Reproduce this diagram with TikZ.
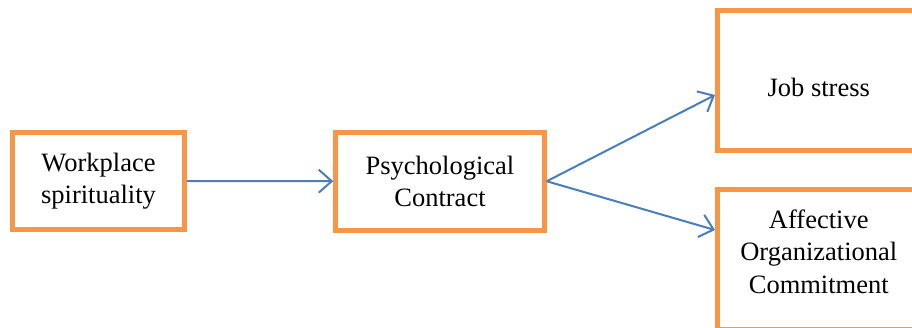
\documentclass[tikz,border=0pt]{standalone}
\usepackage{fontspec}
\setmainfont{Liberation Serif}
\usetikzlibrary{arrows.meta}
\definecolor{boxorange}{HTML}{F79646}
\definecolor{linkblue}{HTML}{4A7EBB}

\begin{document}
\begin{tikzpicture}[x=1pt,y=-1pt,
    factor/.style={draw=boxorange, line width=5pt, fill=white, align=center,
      inner sep=0pt, font=\fontsize{26.5}{32.5}\selectfont},
    inlabel/.style={align=center, inner sep=0pt, font=\fontsize{26.5}{32.5}\selectfont},
    link/.style={draw=linkblue, line width=2pt,
      -{Straight Barb[length=13pt,width=23pt]}}]
  \useasboundingbox (0,0) rectangle (912,327);
  \clip (0,0) rectangle (912,327);

  \node[factor, minimum width=172pt, minimum height=97pt] (ws) at (98.5,181)
    {Workplace\\spirituality};
  \node[factor, minimum width=208.5pt, minimum height=97.5pt] (pc) at (440,181.25)
    {Psychological\\Contract};
  % text of the right boxes sits off centre
  \node[factor, minimum width=202.5pt, minimum height=140pt,
    label={[inlabel, yshift=-7pt]center:Job stress}] (js) at (818.75,80.5) {};
  \node[factor, minimum width=202.5pt, minimum height=140pt,
    label={[inlabel, yshift=8pt]center:Affective\\Organizational\\Commitment}]
    (aoc) at (818.75,259.5) {};

  % links
  \draw[link] (ws) -- (pc);
  \draw[link] (pc.east) -- ([yshift=-14.5pt]js.west);
  \draw[link] (pc.east) -- ([yshift=29.5pt]aoc.west);
\end{tikzpicture}
\end{document}
